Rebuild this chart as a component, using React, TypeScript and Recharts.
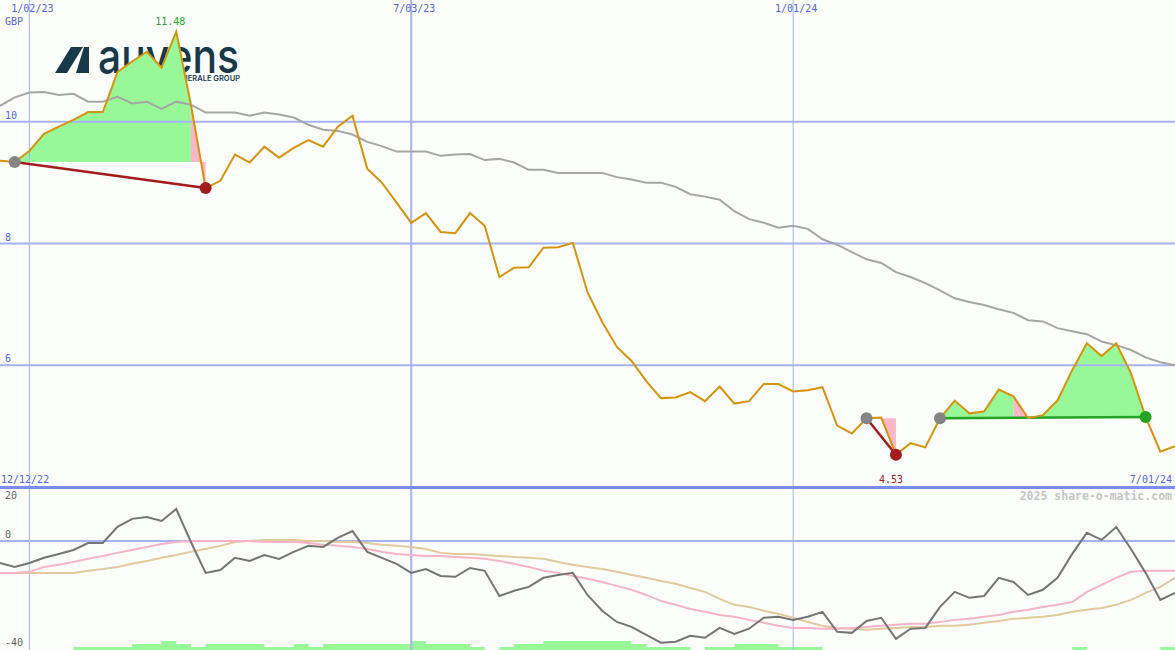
import React from "react";
import {
  ComposedChart,
  Area,
  Line,
  XAxis,
  YAxis,
  ReferenceLine,
  ReferenceDot,
} from "recharts";

// weekly closes in GBP, week 0 = mid Dec 2022, week 80 = 7/01/24
const prices = [
  9.36, 9.34, 9.52, 9.8, 9.92, 10.03, 10.16, 10.16, 10.82, 10.99,
  11.15, 10.89, 11.48, 10.28, 8.91, 9.03, 9.46, 9.33, 9.59, 9.41,
  9.57, 9.7, 9.59, 9.92, 10.1, 9.23, 9.0, 8.67, 8.34, 8.5,
  8.19, 8.17, 8.5, 8.29, 7.45, 7.6, 7.61, 7.93, 7.94, 8.01,
  7.2, 6.71, 6.3, 6.07, 5.74, 5.46, 5.47, 5.56, 5.41, 5.65,
  5.37, 5.41, 5.69, 5.69, 5.57, 5.59, 5.64, 5.01, 4.88, 5.13,
  5.14, 4.53, 4.72, 4.65, 5.13, 5.42, 5.21, 5.24, 5.6, 5.49,
  5.13, 5.18, 5.42, 5.92, 6.36, 6.15, 6.36, 5.87, 5.15, 4.58,
  4.67,
];

// long moving average (grey)
const average = [
  10.26, 10.4, 10.48, 10.49, 10.44, 10.46, 10.33, 10.33, 10.41, 10.3,
  10.33, 10.21, 10.33, 10.28, 10.15, 10.15, 10.15, 10.1, 10.15, 10.12,
  10.07, 9.95, 9.87, 9.85, 9.79, 9.67, 9.6, 9.51, 9.51, 9.51,
  9.44, 9.46, 9.47, 9.37, 9.39, 9.33, 9.21, 9.21, 9.16, 9.16,
  9.16, 9.16, 9.09, 9.05, 9.0, 9.0, 8.93, 8.81, 8.77, 8.72,
  8.53, 8.4, 8.34, 8.26, 8.29, 8.24, 8.07, 7.98, 7.86, 7.74,
  7.68, 7.53, 7.45, 7.35, 7.23, 7.1, 7.04, 6.99, 6.92, 6.86,
  6.74, 6.72, 6.61, 6.56, 6.51, 6.39, 6.33, 6.25, 6.13, 6.05,
  6.0,
];

// lower panel: oscillator and its two averages
const momentum = [
  -8.5, -10.0, -8.5, -6.5, -5.0, -3.5, -0.8, -0.8, 5.4, 8.5,
  9.2, 7.7, 12.3, -0.4, -12.3, -11.2, -6.5, -7.7, -5.4, -6.9,
  -4.2, -1.9, -2.3, 1.2, 3.8, -4.2, -6.5, -8.8, -12.3, -10.8,
  -13.5, -13.8, -10.4, -11.5, -21.2, -19.2, -17.7, -14.2, -13.1, -12.3,
  -20.8, -26.9, -31.2, -33.1, -36.2, -39.2, -38.8, -36.5, -37.3, -33.5,
  -35.8, -33.8, -29.6, -29.2, -30.4, -29.2, -27.3, -35.0, -35.4, -30.8,
  -29.6, -37.7, -33.8, -33.5, -25.4, -19.6, -21.9, -21.2, -14.2, -15.8,
  -20.8, -18.8, -14.2, -5.0, 3.1, 0.4, 5.4, -3.1, -12.3, -22.7,
  -20.0,
];

const signal = [
  -12.3, -12.3, -11.9, -10.0, -9.2, -8.1, -6.9, -5.8, -4.6, -3.5,
  -2.3, -1.2, -0.4, 0, 0, 0, 0, 0, -0.4, -0.4,
  -0.4, -0.8, -1.5, -1.9, -2.3, -3.1, -4.2, -5.0, -5.4, -5.8,
  -5.8, -6.2, -6.5, -6.9, -7.7, -8.8, -10.0, -11.5, -12.3, -13.5,
  -14.6, -15.8, -17.3, -18.8, -20.8, -23.1, -24.6, -26.2, -27.3, -28.5,
  -29.2, -30.4, -31.5, -32.7, -33.5, -33.5, -33.8, -33.8, -33.5, -33.1,
  -32.7, -32.3, -31.9, -31.9, -31.2, -30.4, -30.0, -29.2, -28.5, -27.3,
  -26.5, -25.4, -24.6, -23.5, -19.6, -16.9, -14.2, -11.9, -11.5, -11.5,
  -11.5,
];

const slow = [
  -12.3, -12.3, -12.3, -12.3, -12.3, -12.3, -11.5, -10.8, -10.0, -8.8,
  -7.7, -6.5, -5.4, -4.2, -3.1, -1.9, -0.4, 0, 0.4, 0.4,
  0.4, 0, 0, -0.4, -0.4, -0.8, -1.5, -1.9, -2.3, -3.1,
  -4.6, -5.0, -5.0, -5.4, -5.8, -6.2, -6.5, -6.9, -8.1, -9.2,
  -10.0, -10.8, -11.9, -13.1, -14.2, -15.4, -16.5, -18.1, -19.6, -22.3,
  -24.6, -25.4, -26.9, -28.1, -29.6, -31.2, -32.7, -33.5, -33.8, -34.2,
  -33.8, -33.5, -33.1, -33.1, -32.7, -32.7, -32.3, -31.5, -30.8, -30.0,
  -29.6, -29.2, -28.5, -27.3, -26.5, -25.8, -24.6, -22.7, -20.0, -17.7,
  -14.2,
];

// green histogram at the foot of the lower panel (0-3)
const volume = [
  0, 0, 0, 0, 0, 1, 1, 1, 1, 2,
  2, 3, 2, 1, 2, 2, 2, 2, 1, 1,
  2, 1, 2, 2, 2, 2, 2, 2, 3, 2,
  2, 2, 1, 0, 1, 2, 2, 3, 3, 3,
  3, 3, 3, 2, 1, 1, 1, 0, 1, 1,
  2, 2, 2, 1, 1, 1, 0, 0, 0, 0,
  0, 0, 0, 0, 0, 0, 0, 0, 0, 0,
  0, 0, 0, 1, 0, 0, 0, 0, 0, 1,
  1,
];

const dateLines = [
  { week: 2, label: "1/02/23", width: 1 },
  { week: 28, label: "7/03/23", width: 2 },
  { week: 54, label: "1/01/24", width: 1 },
];
const priceTicks = [10, 8, 6];

const trades = [
  { buy: 1, sell: 14 },
  { buy: 59, sell: 61 },
  { buy: 64, sell: 78 },
];
// shaded stretches between entry price and the close
const shading = [
  { trade: 0, from: 1, to: 13, up: true },
  { trade: 0, from: 13, to: 14, up: false },
  { trade: 1, from: 59, to: 60, up: true },
  { trade: 1, from: 60, to: 61, up: false },
  { trade: 2, from: 64, to: 69, up: true },
  { trade: 2, from: 69, to: 70, up: false },
  { trade: 2, from: 70, to: 78, up: true },
];

const W = 1175;
const MONO = "'DejaVu Sans Mono', monospace";
const BLUE_TEXT = "#5163ee";
const GRID = "#a6b3f3";
const GAIN = "#98f898";
const LOSS = "#f8b8c8";
const ORANGE = "#d8930c";
const RED = "#a31c1c";
const GREEN = "#26a226";
const NONE = { top: 0, right: 0, bottom: 0, left: 0 };

const topRows = prices.map((price, i) => {
  const row: Record<string, any> = { week: i, price, avg: average[i] };
  shading.forEach((s, k) => {
    row["s" + k] = i >= s.from && i <= s.to ? [prices[trades[s.trade].buy], price] : null;
  });
  return row;
});

const bottomRows = momentum.map((m, i) => ({
  week: i,
  momentum: m,
  signal: signal[i],
  slow: slow[i],
  vol: volume[i],
}));

const hi = Math.max(...prices);
const lo = Math.min(...prices);
const hiIdx = prices.indexOf(hi);
const loIdx = prices.indexOf(lo);

function Logo() {
  return (
    <svg width={W} height={487} style={{ position: "absolute", left: 0, top: 0 }}>
      <polygon points="55,73 67,73 83,47 71,47" fill="#17394a" />
      <polygon points="76,73 89,73 89,47 84,47" fill="#17394a" />
      <text fontFamily="Inter, sans-serif" fill="#17394a">
        <tspan x={98} y={73} fontWeight={500} fontSize={48} textLength={141} lengthAdjust="spacingAndGlyphs">
          auvens
        </tspan>
        <tspan x={240} y={81} textAnchor="end" fontWeight={600} fontSize={7.5}>
          SOCIETE GENERALE GROUP
        </tspan>
      </text>
    </svg>
  );
}

export default function App() {
  return (
    <div
      style={{
        position: "absolute",
        left: 0,
        top: 0,
        width: W,
        height: 650,
        background: "#fcfefc",
        overflow: "hidden",
      }}
    >
      <Logo />

      {/* price panel */}
      <div style={{ position: "absolute", left: 0, top: 0 }}>
        <ComposedChart width={W} height={487} data={topRows} margin={NONE}>
          <XAxis type="number" dataKey="week" domain={[0, 80]} hide />
          <YAxis type="number" domain={[4, 12]} hide />
          {shading.map((s, k) => (
            <Area
              key={"s" + k}
              type="linear"
              dataKey={"s" + k}
              stroke="none"
              fill={s.up ? GAIN : LOSS}
              fillOpacity={1}
              dot={false}
              activeDot={false}
              isAnimationActive={false}
            />
          ))}
          {priceTicks.map((v) => (
            <ReferenceLine
              key={v}
              y={v}
              stroke={GRID}
              strokeWidth={2}
              label={(p: any) => (
                <text x={p.viewBox.x + 5} y={p.viewBox.y - 3} fill={BLUE_TEXT} fontSize={10} fontFamily={MONO}>
                  {v}
                </text>
              )}
            />
          ))}
          {dateLines.map((d) => (
            <ReferenceLine
              key={d.label}
              x={d.week}
              stroke={GRID}
              strokeWidth={d.width}
              label={(p: any) => (
                <text
                  x={p.viewBox.x + 3}
                  y={p.viewBox.y + 12}
                  textAnchor="middle"
                  fill={BLUE_TEXT}
                  fontSize={10}
                  fontFamily={MONO}
                >
                  {d.label}
                </text>
              )}
            />
          ))}
          {trades.map((t, k) => (
            <ReferenceLine
              key={"t" + k}
              segment={[
                { x: t.buy, y: prices[t.buy] },
                { x: t.sell, y: prices[t.sell] },
              ]}
              stroke={prices[t.sell] >= prices[t.buy] ? GREEN : RED}
              strokeWidth={2.5}
            />
          ))}
          {trades.map((t, k) => (
            <ReferenceDot key={"b" + k} x={t.buy} y={prices[t.buy]} r={6} fill="#858585" stroke="none" />
          ))}
          {trades.map((t, k) => (
            <ReferenceDot
              key={"e" + k}
              x={t.sell}
              y={prices[t.sell]}
              r={6}
              fill={prices[t.sell] >= prices[t.buy] ? GREEN : RED}
              stroke="none"
            />
          ))}
          <Line
            type="linear"
            dataKey="avg"
            stroke="#a6a6a6"
            strokeWidth={2}
            dot={false}
            activeDot={false}
            isAnimationActive={false}
          />
          <Line
            type="linear"
            dataKey="price"
            stroke={ORANGE}
            strokeWidth={2}
            dot={false}
            activeDot={false}
            isAnimationActive={false}
          />
          <ReferenceDot
            x={hiIdx}
            y={hi}
            r={1}
            shape={(p: any) => (
              <text x={p.cx - 6} y={p.cy - 7} textAnchor="middle" fill={GREEN} fontSize={10} fontFamily={MONO}>
                {hi.toFixed(2)}
              </text>
            )}
          />
          <ReferenceDot
            x={loIdx}
            y={lo}
            r={1}
            shape={(p: any) => (
              <text x={p.cx - 5} y={p.cy + 28} textAnchor="middle" fill={RED} fontSize={10} fontFamily={MONO}>
                {lo.toFixed(2)}
              </text>
            )}
          />
        </ComposedChart>
      </div>

      <div style={{ position: "absolute", left: 0, top: 486, width: W, height: 3, background: "#7b8bf1" }} />

      {/* oscillator panel */}
      <div style={{ position: "absolute", left: 0, top: 489 }}>
        <ComposedChart width={W} height={161} data={bottomRows} margin={NONE}>
          <XAxis type="number" dataKey="week" domain={[0, 80]} hide />
          <YAxis yAxisId="osc" type="number" domain={[-42, 20]} hide />
          <YAxis yAxisId="vol" type="number" domain={[0, 54]} hide />
          <Area
            yAxisId="vol"
            type="stepAfter"
            dataKey="vol"
            stroke="none"
            fill={GAIN}
            fillOpacity={1}
            dot={false}
            activeDot={false}
            isAnimationActive={false}
          />
          <ReferenceLine
            yAxisId="osc"
            y={0}
            stroke={GRID}
            strokeWidth={2}
            label={(p: any) => (
              <text x={p.viewBox.x + 5} y={p.viewBox.y - 3} fill="#666" fontSize={10} fontFamily={MONO}>
                0
              </text>
            )}
          />
          {dateLines.map((d) => (
            <ReferenceLine key={d.label} yAxisId="osc" x={d.week} stroke={GRID} strokeWidth={d.width} />
          ))}
          <Line yAxisId="osc" type="linear" dataKey="slow" stroke="#e2ca9c" strokeWidth={2} dot={false} activeDot={false} isAnimationActive={false} />
          <Line yAxisId="osc" type="linear" dataKey="signal" stroke="#f7b4c8" strokeWidth={2} dot={false} activeDot={false} isAnimationActive={false} />
          <Line yAxisId="osc" type="linear" dataKey="momentum" stroke="#757575" strokeWidth={2} dot={false} activeDot={false} isAnimationActive={false} />
        </ComposedChart>
      </div>

      <svg width={W} height={650} style={{ position: "absolute", left: 0, top: 0, pointerEvents: "none" }}>
        <text x={5} y={25} fill={BLUE_TEXT} fontSize={10} fontFamily={MONO}>GBP</text>
        <text x={1} y={483} fill={BLUE_TEXT} fontSize={10} fontFamily={MONO}>12/12/22</text>
        <text x={1172} y={483} textAnchor="end" fill={BLUE_TEXT} fontSize={10} fontFamily={MONO}>7/01/24</text>
        <text x={1172} y={500} textAnchor="end" fill="#c6c6c6" fontSize={11.5} fontWeight="bold" fontFamily={MONO}>
          2025 share-o-matic.com
        </text>
        <text x={5} y={499} fill="#666" fontSize={10} fontFamily={MONO}>20</text>
        <text x={5} y={646} fill="#666" fontSize={10} fontFamily={MONO}>-40</text>
      </svg>
    </div>
  );
}
